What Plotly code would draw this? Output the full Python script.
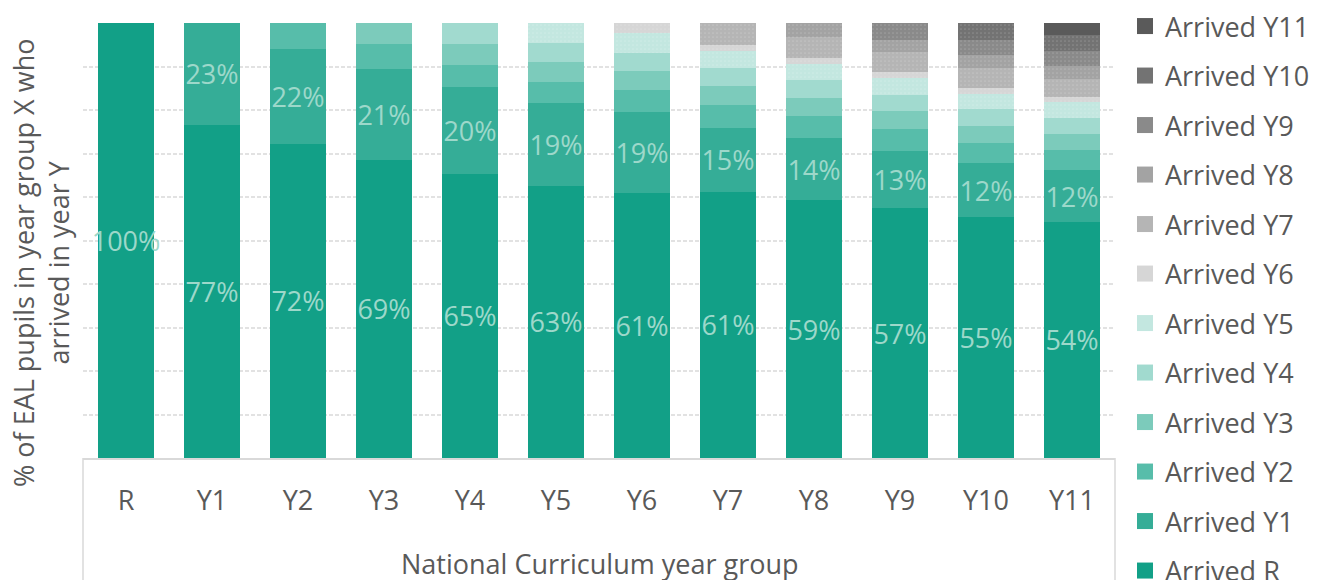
import plotly.graph_objects as go

# Year groups (x categories)
categories = ["R", "Y1", "Y2", "Y3", "Y4", "Y5", "Y6", "Y7", "Y8", "Y9", "Y10", "Y11"]

# % of EAL pupils in each year group who arrived in a given year (None = not applicable)
arrived_R   = [100, 76.6, 72.3, 68.6, 65.3, 62.6, 60.9, 61.2, 59.3, 57.4, 55.4, 54.3]
arrived_Y1  = [None, 23.4, 21.8, 20.8, 19.9, 19.0, 18.6, 14.7, 14.2, 13.2, 12.4, 11.8]
arrived_Y2  = [None, None, 5.9, 5.7, 5.2, 4.8, 5.1, 5.2, 5.1, 5.0, 4.6, 4.7]
arrived_Y3  = [None, None, None, 4.9, 4.8, 4.6, 4.4, 4.4, 4.1, 4.1, 4.0, 3.6]
arrived_Y4  = [None, None, None, None, 4.8, 4.5, 4.2, 4.2, 4.1, 3.8, 3.8, 3.8]
arrived_Y5  = [None, None, None, None, None, 4.5, 4.5, 3.8, 3.8, 3.8, 3.5, 3.6]
arrived_Y6  = [None, None, None, None, None, None, 2.3, 1.5, 1.4, 1.5, 1.4, 1.1]
arrived_Y7  = [None, None, None, None, None, None, None, 5.0, 4.7, 4.5, 4.6, 4.3]
arrived_Y8  = [None, None, None, None, None, None, None, None, 3.3, 2.9, 2.9, 3.0]
arrived_Y9  = [None, None, None, None, None, None, None, None, None, 3.8, 3.6, 3.3]
arrived_Y10 = [None, None, None, None, None, None, None, None, None, None, 3.8, 3.8]
arrived_Y11 = [None, None, None, None, None, None, None, None, None, None, None, 2.7]

series_names = ["Arrived R", "Arrived Y1", "Arrived Y2", "Arrived Y3", "Arrived Y4", "Arrived Y5",
                "Arrived Y6", "Arrived Y7", "Arrived Y8", "Arrived Y9", "Arrived Y10", "Arrived Y11"]
series_values = [arrived_R, arrived_Y1, arrived_Y2, arrived_Y3, arrived_Y4, arrived_Y5,
                 arrived_Y6, arrived_Y7, arrived_Y8, arrived_Y9, arrived_Y10, arrived_Y11]
labelled_series = ["Arrived R", "Arrived Y1"]

colors = ["#12a087", "#35ad97", "#57bdaa", "#7ccbbb", "#a1dacf", "#c3e7e0",
          "#d6d6d6", "#b5b5b5", "#a3a3a3", "#8a8a8a", "#737373", "#5a5a5a"]
patterned = {"Arrived Y5", "Arrived Y6", "Arrived Y7", "Arrived Y8", "Arrived Y9", "Arrived Y10"}

FONT = "Open Sans"
TXT = "#595959"
LABEL = "#9dd8ca"

fig = go.Figure()
n = len(series_names)
for i, (name, vals, col) in enumerate(zip(series_names, series_values, colors)):
    kw = {}
    if name in labelled_series:
        kw = dict(texttemplate="%{y:.0f}%", textposition="inside", insidetextanchor="middle",
                  textangle=0, constraintext="none",
                  textfont=dict(family=FONT, size=27, color=LABEL))
    pattern = None
    if name in patterned:
        pattern = dict(shape=".", fgcolor="rgba(255,255,255,0.35)", size=4, solidity=0.15)
    fig.add_trace(go.Bar(
        x=categories, y=vals, name=name, legendgroup=name, showlegend=False,
        marker=dict(color=col, line=dict(width=0), pattern=pattern),
        hoverinfo="skip", **kw))
    # legend entry (square swatch)
    fig.add_trace(go.Scatter(
        x=[None], y=[None], mode="markers", name=name, legendgroup=name,
        legendrank=100 + (n - i), showlegend=True,
        marker=dict(symbol="square", size=18, color=col, line=dict(width=0)),
        hoverinfo="skip"))

# the page body adds an 8px offset; figure coordinates are compensated for it
OFF = 8
W, HT = 1331 - OFF, 580 - OFF
L, T = 83 - OFF, 23 - OFF
PLOT_BOTTOM = 458 - OFF
PLOT_RIGHT = 1115 - OFF
R_ = W - PLOT_RIGHT
B = HT - PLOT_BOTTOM
PW = PLOT_RIGHT - L
H = PLOT_BOTTOM - T

def px_y(screen_y):
    return (PLOT_BOTTOM - (screen_y - OFF)) / H

def px_x(screen_x):
    return ((screen_x - OFF) - L) / PW

fig.update_layout(
    width=W, height=HT,
    margin=dict(l=L, r=R_, t=T, b=B, pad=0, autoexpand=False),
    barmode="stack", bargap=0.34,
    plot_bgcolor="white", paper_bgcolor="white",
    font=dict(family=FONT, size=28, color=TXT),
    showlegend=True,
    legend=dict(x=px_x(1125), xanchor="left", y=px_y(2), yanchor="top",
                traceorder="grouped", tracegroupgap=11.4, maxheight=900,
                itemsizing="trace",
                font=dict(family=FONT, size=27, color=TXT), bgcolor="rgba(0,0,0,0)"),
    xaxis=dict(showline=True, linecolor="#d9d9d9", linewidth=1.5, ticks="outside",
               ticklen=18, tickcolor="rgba(0,0,0,0)", showgrid=False,
               tickfont=dict(family=FONT, size=27, color=TXT)),
    yaxis=dict(range=[0, 100], dtick=10, showticklabels=False, showgrid=True,
               gridcolor="#e2e2e2", gridwidth=1.5, griddash="4px,2px", zeroline=False,
               showline=False, fixedrange=True),
)

# axis title annotations
fig.add_annotation(text="National Curriculum year group", xref="paper", yref="paper",
                   x=px_x(600), y=px_y(563), xanchor="center", yanchor="middle",
                   showarrow=False, font=dict(family=FONT, size=27, color=TXT))
fig.add_annotation(text="% of EAL pupils in year group X who<br>arrived in year Y", xref="paper", yref="paper",
                   x=px_x(41), y=px_y(263), xanchor="center", yanchor="middle",
                   textangle=-90, showarrow=False, font=dict(family=FONT, size=27, color=TXT))

# frame around the category axis area
for xp in (0, 1):
    fig.add_shape(type="line", xref="paper", yref="paper", x0=xp, x1=xp, y0=0, y1=-0.4,
                  line=dict(color="#d9d9d9", width=1.5))

fig.write_html("out.html")
